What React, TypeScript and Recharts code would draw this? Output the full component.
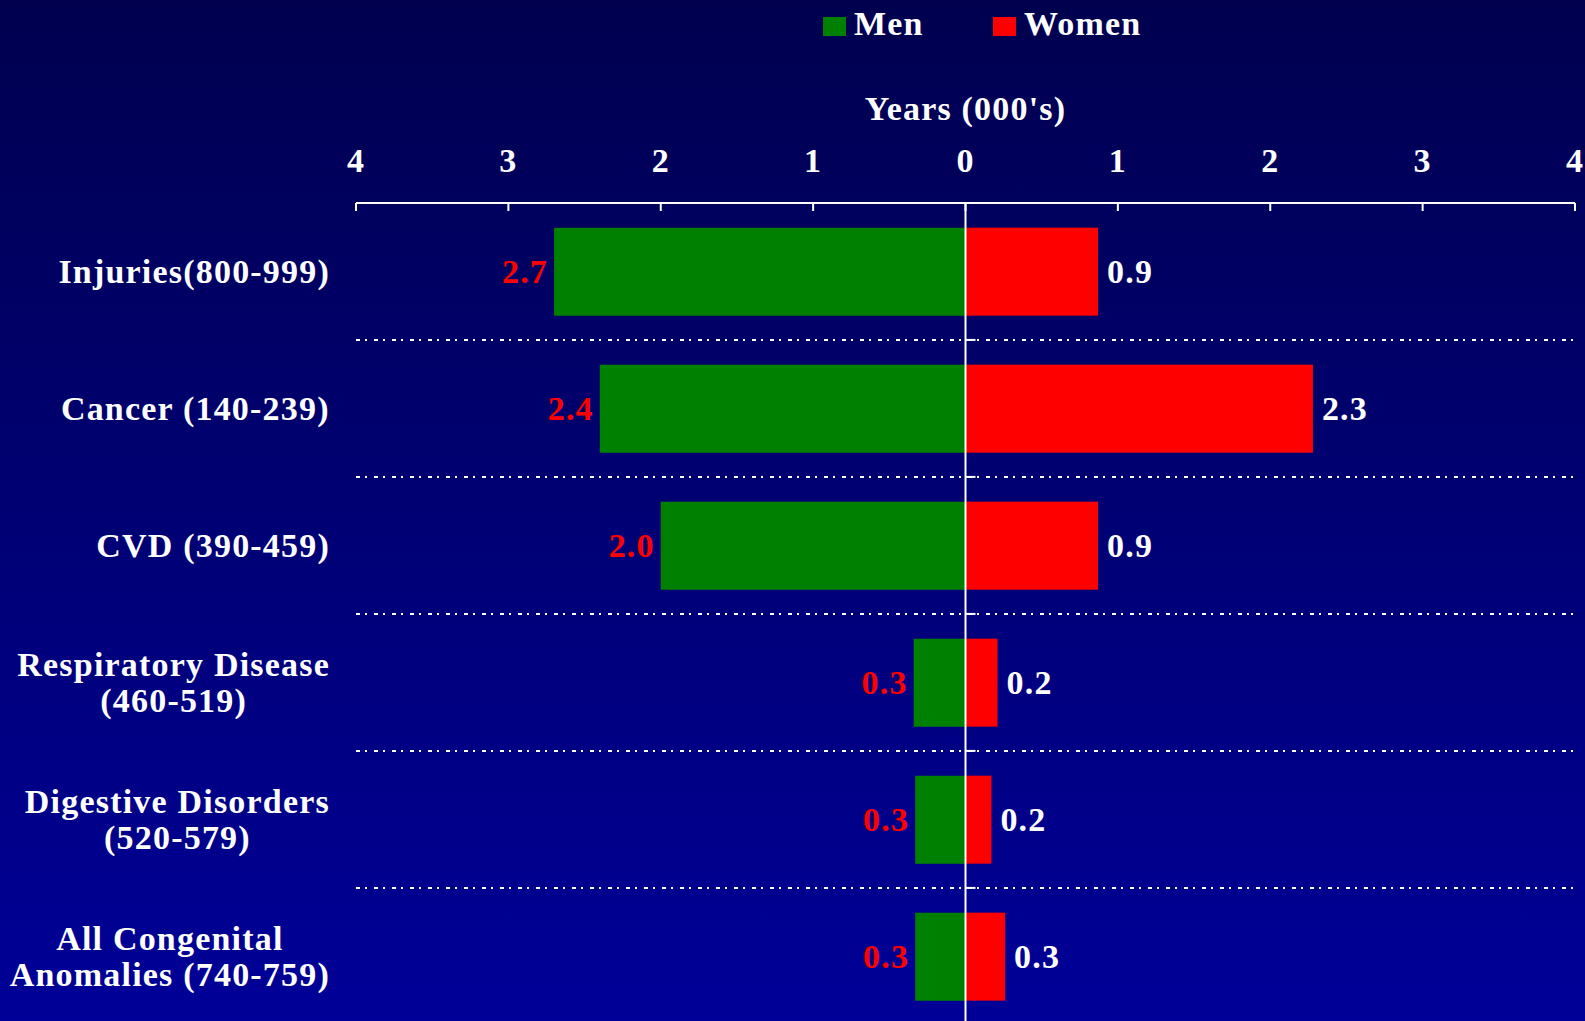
import React from "react"
import {
  BarChart,
  Bar,
  XAxis,
  YAxis,
  CartesianGrid,
  ReferenceLine,
  LabelList
} from "recharts"

const categories = [
  "Injuries(800-999)",
  "Cancer (140-239)",
  "CVD (390-459)",
  "Respiratory Disease\n(460-519)",
  "Digestive Disorders\n(520-579)",
  "All Congenital\nAnomalies (740-759)"
]

// years lost (000's)
const menYears = [2.7, 2.4, 2.0, 0.34, 0.33, 0.33]
const womenYears = [0.87, 2.28, 0.87, 0.21, 0.17, 0.26]

const xTicks = [-4, -3, -2, -1, 0, 1, 2, 3, 4]

const seriesNames = ["Men", "Women"]
const seriesColors = ["#008000", "#ff0000"]

const data = categories.map((name, i) => ({
  name,
  men: -menYears[i],
  women: womenYears[i]
}))

const FONT = "'Liberation Serif', 'Times New Roman', serif"
const FS = 34
const LS = 1.2
const textStyle = {
  fontFamily: FONT,
  fontWeight: 700,
  fontSize: FS,
  letterSpacing: LS
}

const GAP = 0.18

let ctx: CanvasRenderingContext2D | null = null
function measure(s: string) {
  if (!ctx) {
    ctx = document.createElement("canvas").getContext("2d")
  }
  if (!ctx) return s.length * 17
  ctx.font = `bold ${FS}px ${FONT}`
  return ctx.measureText(s).width + s.length * LS
}

function XTick(props: any) {
  const { x, y, payload } = props
  return (
    <g>
      <line x1={x} y1={y} x2={x} y2={y + 8} stroke="#fff" strokeWidth={2} />
      <text x={x} y={y - 31} textAnchor="middle" fill="#fff" style={textStyle}>
        {Math.abs(payload.value)}
      </text>
    </g>
  )
}

function YTick(props: any) {
  const { x, y, payload } = props
  const lines = String(payload.value).split("\n")
  const w = Math.max(...lines.map(measure))
  const cx = x - 26 - w / 2
  const lh = 35.5
  const y0 = y - ((lines.length - 1) * lh) / 2
  return (
    <g>
      {lines.map((l, i) => (
        <text
          key={i}
          x={cx}
          y={y0 + i * lh}
          textAnchor="middle"
          dominantBaseline="central"
          fill="#fff"
          style={textStyle}
        >
          {l}
        </text>
      ))}
    </g>
  )
}

function YearsLabel(props: any) {
  const vb = props.viewBox || {}
  return (
    <text x={vb.x + vb.width / 2} y={120} textAnchor="middle" fill="#fff" style={textStyle}>
      Years (000's)
    </text>
  )
}

function MenLabel(props: any) {
  const { x, y, width, height, value } = props
  const left = Math.min(x, x + width)
  return (
    <text
      x={left - 6}
      y={y + height / 2}
      textAnchor="end"
      dominantBaseline="central"
      fill="#ff0000"
      style={textStyle}
    >
      {Math.abs(Number(value)).toFixed(1)}
    </text>
  )
}

function WomenLabel(props: any) {
  const { x, y, width, height, value } = props
  const right = Math.max(x, x + width)
  return (
    <text
      x={right + 9}
      y={y + height / 2}
      dominantBaseline="central"
      fill="#fff"
      style={textStyle}
    >
      {Math.abs(Number(value)).toFixed(1)}
    </text>
  )
}

function WomenShape(props: any) {
  const { x, y, width, height, fill, index } = props
  const gap = (height * GAP) / (1 - 2 * GAP)
  return (
    <g>
      <rect x={x} y={y} width={width} height={height} fill={fill} />
      {index > 0 && (
        <line x1={x} x2={x + 10} y1={y - gap} y2={y - gap} stroke="#fff" strokeWidth={2} />
      )}
    </g>
  )
}

const legendLeft = [823, 993]

export default function App() {
  return (
    <div
      style={{
        position: "relative",
        width: 1585,
        height: 1021,
        overflow: "hidden",
        background: "linear-gradient(to bottom, #00004f, #000098)"
      }}
    >
      <style>{"body{margin:0}"}</style>

      {seriesNames.map((n, i) => (
        <div
          key={n}
          style={{
            position: "absolute",
            left: legendLeft[i],
            top: 6,
            height: 36,
            display: "flex",
            alignItems: "center",
            color: "#fff",
            ...textStyle
          }}
        >
          <div style={{ width: 23, height: 19, background: seriesColors[i], marginRight: 8, marginTop: 4 }} />
          <span style={{ lineHeight: "36px" }}>{n}</span>
        </div>
      ))}

      <BarChart
        width={1585}
        height={1021}
        layout="vertical"
        data={data}
        stackOffset="sign"
        barCategoryGap={`${GAP * 100}%`}
        margin={{ top: 0, right: 10, left: 0, bottom: -4 }}
      >
        <CartesianGrid
          vertical={false}
          stroke="#fff"
          strokeWidth={2}
          strokeDasharray="4 5 2 7"
          horizontalCoordinatesGenerator={({ offset }: any) =>
            [1, 2, 3, 4, 5].map((i) => offset.top + (i * offset.height) / categories.length)
          }
        />

        <XAxis
          type="number"
          orientation="top"
          domain={[-4, 4]}
          ticks={xTicks}
          interval={0}
          height={203}
          tickSize={0}
          tickMargin={0}
          tickLine={false}
          axisLine={{ stroke: "#fff", strokeWidth: 2 }}
          tick={<XTick />}
          label={<YearsLabel />}
        />

        <YAxis
          type="category"
          dataKey="name"
          width={356}
          interval={0}
          tickSize={0}
          tickMargin={0}
          tickLine={false}
          axisLine={false}
          tick={<YTick />}
        />

        <Bar dataKey="men" stackId="a" fill={seriesColors[0]} isAnimationActive={false}>
          <LabelList dataKey="men" content={MenLabel} />
        </Bar>
        <Bar
          dataKey="women"
          stackId="a"
          fill={seriesColors[1]}
          shape={WomenShape}
          isAnimationActive={false}
        >
          <LabelList dataKey="women" content={WomenLabel} />
        </Bar>

        <ReferenceLine x={0} stroke="#fff" strokeWidth={2} />
      </BarChart>
    </div>
  )
}
